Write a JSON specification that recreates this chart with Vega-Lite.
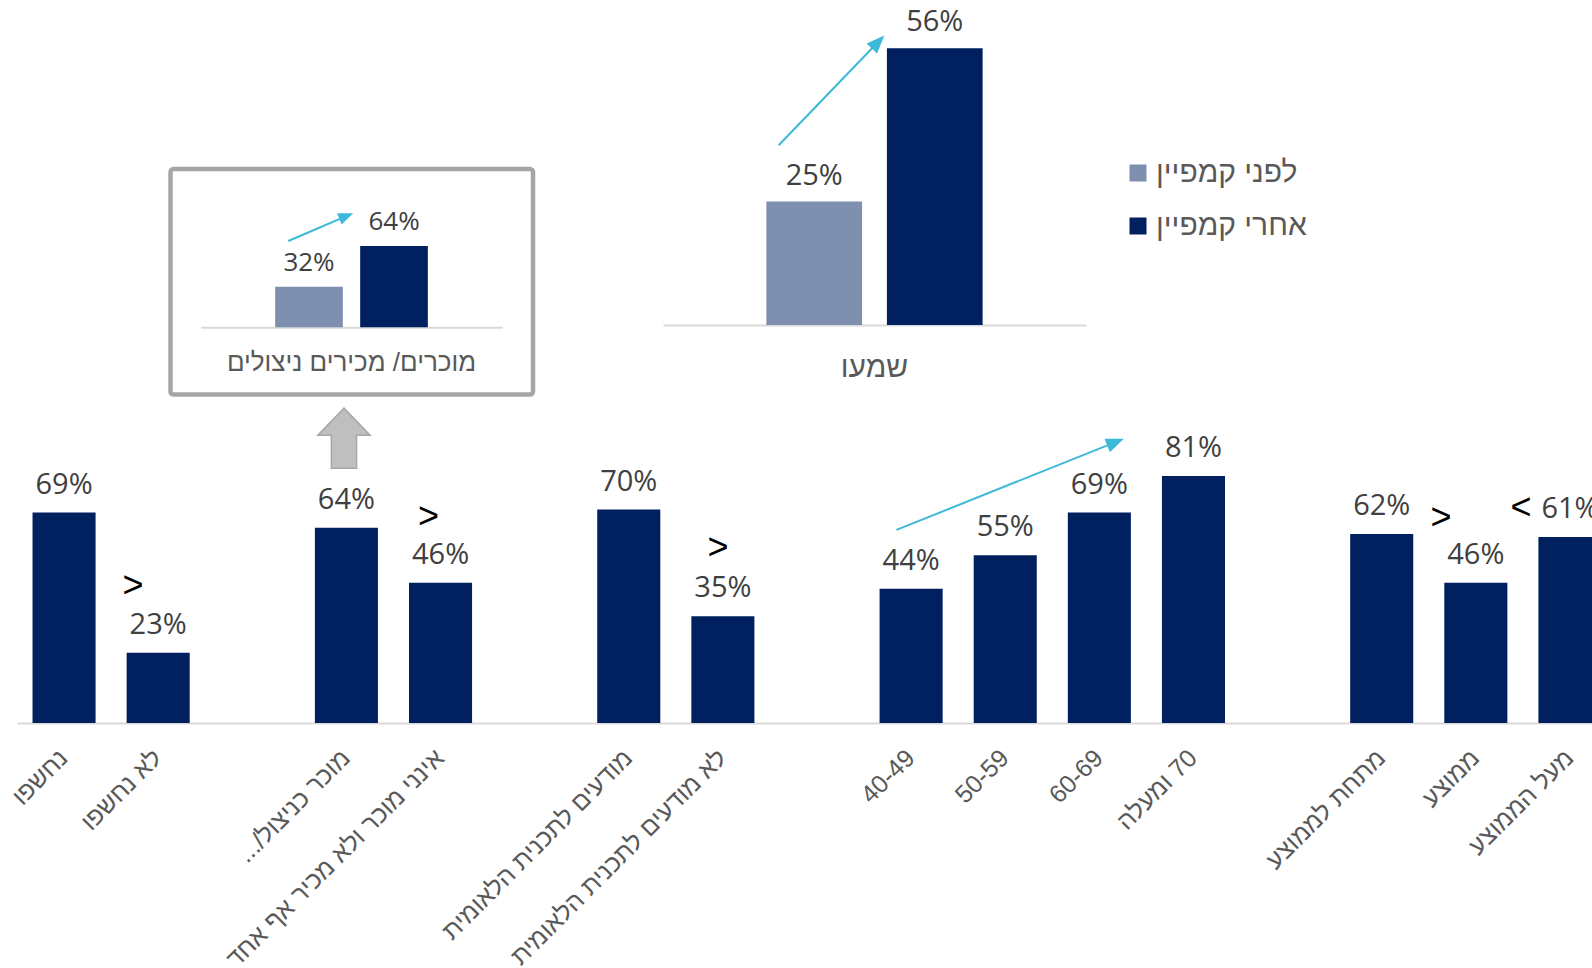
{
  "$schema": "https://vega.github.io/schema/vega-lite/v6.json",
  "width": 1592,
  "height": 968,
  "autosize": {"type": "none"},
  "padding": 0,
  "background": "white",
  "config": {"view": {"stroke": null}, "axis": {"grid": false}},
  "datasets": {
    "main": [
      {"group": "נחשפו", "pct": 0.69},
      {"group": "לא נחשפו", "pct": 0.23},
      {"group": "מוכר כניצול/...\u200f", "pct": 0.64},
      {"group": "אינני מוכר ולא מכיר אף אחד", "pct": 0.46},
      {"group": "מודעים לתכנית הלאומית", "pct": 0.70},
      {"group": "לא מודעים לתכנית הלאומית", "pct": 0.35},
      {"group": "40-49", "pct": 0.44},
      {"group": "50-59", "pct": 0.55},
      {"group": "60-69", "pct": 0.69},
      {"group": "\u200f70 ומעלה", "pct": 0.81},
      {"group": "מתחת לממוצע", "pct": 0.62},
      {"group": "ממוצע", "pct": 0.46},
      {"group": "מעל הממוצע", "pct": 0.61}
    ],
    "mainNotes": [
      {"slot": 1.232, "level": 0.449, "sym": ">"},
      {"slot": 4.372, "level": 0.676, "sym": ">"},
      {"slot": 7.448, "level": 0.574, "sym": ">"},
      {"slot": 15.13, "level": 0.672, "sym": ">"},
      {"slot": 15.98, "level": 0.705, "sym": "<"}
    ],
    "mainArrow": [{"slot": 9.344, "level": 0.633, "slot2": 11.672, "level2": 0.921}],
    "upArrow": [{"slot": 3.474, "level": 0.934}],
    "top": [
      {"category": "שמעו", "series": "לפני קמפיין", "pct": 0.25},
      {"category": "שמעו", "series": "אחרי קמפיין", "pct": 0.56}
    ],
    "topArrow": [{"u": 0.2735, "level": 0.364, "u2": 0.5085, "level2": 0.573}],
    "inset": [
      {"category": "מוכרים/ מכירים ניצולים", "series": "לפני קמפיין", "pct": 0.32},
      {"category": "מוכרים/ מכירים ניצולים", "series": "אחרי קמפיין", "pct": 0.64}
    ],
    "insetFrame": [{"u": -0.1001, "u2": 1.1018, "level": 1.2465, "level2": -0.529}],
    "insetArrow": [{"u": 0.2905, "level": 0.6795, "u2": 0.4827, "level2": 0.876}]
  },
  "layer": [
    {
      "layer": [
        {
          "data": {"name": "main"},
          "encoding": {
            "x": {
              "field": "group", "type": "nominal", "sort": null,
              "scale": {
                "domain": ["נחשפו", "לא נחשפו", " ", "מוכר כניצול/...\u200f", "אינני מוכר ולא מכיר אף אחד", "  ", "מודעים לתכנית הלאומית", "לא מודעים לתכנית הלאומית", "   ", "40-49", "50-59", "60-69", "\u200f70 ומעלה", "    ", "מתחת לממוצע", "ממוצע", "מעל הממוצע"],
                "range": [17, 1617], "paddingInner": 0.33, "paddingOuter": 0.165
              },
              "axis": {
                "orient": "bottom", "offset": -245, "title": null, "ticks": false,
                "labelAngle": -45, "labelFontSize": 25, "labelFont": "Liberation Sans",
                "labelColor": "#595959", "labelPadding": 22, "labelOffset": -9, "labelLimit": 500, "labelOverlap": false,
                "domainColor": "#D9D9D9", "domainWidth": 2
              }
            },
            "y": {"field": "pct", "type": "quantitative", "scale": {"domain": [0, 1], "range": [723, 418], "nice": false, "zero": true}, "axis": null}
          },
          "layer": [
            {"mark": {"type": "bar", "color": "#002060"}},
            {
              "mark": {"type": "text", "dy": -19, "baseline": "alphabetic", "align": "center", "font": "Open Sans", "fontSize": 29, "color": "#404040"},
              "encoding": {"text": {"field": "pct", "type": "quantitative", "format": ".0%"}}
            }
          ]
        },
        {
          "encoding": {
            "x": {"field": "slot", "type": "quantitative", "scale": {"domain": [0, 17], "range": [17, 1617], "nice": false, "zero": false}, "axis": null},
            "y": {"field": "level", "type": "quantitative", "scale": {"domain": [0, 1], "range": [723, 418], "nice": false, "zero": true}, "axis": null}
          },
          "layer": [
            {
              "data": {"name": "mainNotes"},
              "mark": {"type": "text", "font": "Liberation Sans", "fontSize": 36, "color": "#000000", "baseline": "middle", "align": "center"},
              "encoding": {"text": {"field": "sym", "type": "nominal"}}
            },
            {
              "data": {"name": "mainArrow"},
              "mark": {"type": "rule", "color": "#3CB9D8", "strokeWidth": 2},
              "encoding": {"x2": {"field": "slot2"}, "y2": {"field": "level2"}}
            },
            {
              "data": {"name": "mainArrow"},
              "mark": {"type": "point", "shape": "M0,-1L0.8,1L-0.8,1Z", "filled": true, "color": "#3CB9D8", "opacity": 1, "size": 324, "angle": 68},
              "encoding": {"x": {"field": "slot2", "type": "quantitative"}, "y": {"field": "level2", "type": "quantitative"}}
            },
            {
              "data": {"name": "upArrow"},
              "mark": {"type": "point", "shape": "M0,-1L0.87,-0.1L0.42,-0.1L0.42,1L-0.42,1L-0.42,-0.1L-0.87,-0.1Z", "filled": true, "fill": "#BFBFBF", "stroke": "#A6A6A6", "strokeWidth": 1.5, "opacity": 1, "size": 3600}
            }
          ]
        }
      ],
      "resolve": {"scale": {"x": "independent"}}
    },
    {
      "layer": [
        {
          "data": {"name": "top"},
          "encoding": {
            "x": {
              "field": "category", "type": "nominal",
              "scale": {"range": [663, 1086], "paddingOuter": 0.478, "paddingInner": 0},
              "axis": {
                "orient": "bottom", "offset": -643, "title": null, "ticks": false, "labelAngle": 0,
                "labelFontSize": 30, "labelFont": "Liberation Sans", "labelColor": "#595959",
                "labelPadding": 27, "labelLimit": 500, "domainColor": "#D9D9D9", "domainWidth": 2
              }
            },
            "xOffset": {"field": "series", "type": "nominal", "sort": ["לפני קמפיין", "אחרי קמפיין"], "scale": {"paddingInner": 0.206, "paddingOuter": 0}},
            "y": {"field": "pct", "type": "quantitative", "scale": {"domain": [0, 0.6], "range": [325, 28.6], "nice": false, "zero": true}, "axis": null},
            "color": {
              "field": "series", "type": "nominal",
              "scale": {"domain": ["לפני קמפיין", "אחרי קמפיין"], "range": ["#7F8FAF", "#002060"]},
              "legend": {
                "orient": "none", "legendX": 1123, "legendY": 158, "title": null, "direction": "vertical",
                "symbolType": "square", "symbolSize": 289, "symbolStrokeWidth": 0,
                "labelFontSize": 30, "labelFont": "Liberation Sans", "labelColor": "#595959",
                "rowPadding": 23, "labelOffset": 3, "padding": 0, "labelLimit": 400
              }
            }
          },
          "layer": [
            {"mark": {"type": "bar"}},
            {
              "mark": {"type": "text", "dy": -17, "baseline": "alphabetic", "align": "center", "font": "Open Sans", "fontSize": 29},
              "encoding": {"text": {"field": "pct", "type": "quantitative", "format": ".0%"}, "color": {"value": "#404040"}}
            }
          ]
        },
        {
          "data": {"name": "topArrow"},
          "encoding": {
            "x": {"field": "u", "type": "quantitative", "scale": {"domain": [0, 1], "range": [663, 1086], "nice": false, "zero": false}, "axis": null},
            "y": {"field": "level", "type": "quantitative", "scale": {"domain": [0, 0.6], "range": [325, 28.6], "nice": false, "zero": true}, "axis": null}
          },
          "layer": [
            {"mark": {"type": "rule", "color": "#3CB9D8", "strokeWidth": 2}, "encoding": {"x2": {"field": "u2"}, "y2": {"field": "level2"}}},
            {
              "mark": {"type": "point", "shape": "M0,-1L0.8,1L-0.8,1Z", "filled": true, "color": "#3CB9D8", "opacity": 1, "size": 324, "angle": 44},
              "encoding": {"x": {"field": "u2", "type": "quantitative"}, "y": {"field": "level2", "type": "quantitative"}}
            }
          ]
        }
      ],
      "resolve": {"scale": {"x": "independent"}}
    },
    {
      "layer": [
        {
          "encoding": {
            "x": {"field": "u", "type": "quantitative", "scale": {"domain": [0, 1], "range": [200.7, 502.3], "nice": false, "zero": false}, "axis": null},
            "y": {"field": "level", "type": "quantitative", "scale": {"domain": [0, 1], "range": [327.3, 200.3], "nice": false, "zero": true}, "axis": null}
          },
          "layer": [
            {
              "data": {"name": "insetFrame"},
              "mark": {"type": "rect", "filled": false, "stroke": "#A6A6A6", "strokeWidth": 4.5, "cornerRadius": 3, "opacity": 1},
              "encoding": {"x2": {"field": "u2"}, "y2": {"field": "level2"}}
            },
            {
              "data": {"name": "insetArrow"},
              "mark": {"type": "rule", "color": "#3CB9D8", "strokeWidth": 2},
              "encoding": {"x2": {"field": "u2"}, "y2": {"field": "level2"}}
            },
            {
              "data": {"name": "insetArrow"},
              "mark": {"type": "point", "shape": "M0,-1L0.8,1L-0.8,1Z", "filled": true, "color": "#3CB9D8", "opacity": 1, "size": 225, "angle": 68},
              "encoding": {"x": {"field": "u2", "type": "quantitative"}, "y": {"field": "level2", "type": "quantitative"}}
            }
          ]
        },
        {
          "data": {"name": "inset"},
          "encoding": {
            "x": {
              "field": "category", "type": "nominal",
              "scale": {"range": [200.7, 502.3], "paddingOuter": 0.4876, "paddingInner": 0},
              "axis": {
                "orient": "bottom", "offset": -640.7, "title": null, "ticks": false, "labelAngle": 0,
                "labelFontSize": 26, "labelFont": "Liberation Sans", "labelColor": "#595959",
                "labelPadding": 22, "labelLimit": 500, "domainColor": "#D9D9D9", "domainWidth": 2
              }
            },
            "xOffset": {"field": "series", "type": "nominal", "sort": ["לפני קמפיין", "אחרי קמפיין"], "scale": {"paddingInner": 0.204, "paddingOuter": 0}},
            "y": {"field": "pct", "type": "quantitative", "scale": {"domain": [0, 1], "range": [327.3, 200.3], "nice": false, "zero": true}, "axis": null},
            "color": {
              "field": "series", "type": "nominal",
              "scale": {"domain": ["לפני קמפיין", "אחרי קמפיין"], "range": ["#7F8FAF", "#002060"]},
              "legend": {
                "orient": "none", "legendX": 1123, "legendY": 158, "title": null, "direction": "vertical",
                "symbolType": "square", "symbolSize": 289, "symbolStrokeWidth": 0,
                "labelFontSize": 30, "labelFont": "Liberation Sans", "labelColor": "#595959",
                "rowPadding": 23, "labelOffset": 3, "padding": 0, "labelLimit": 400
              }
            }
          },
          "layer": [
            {"mark": {"type": "bar"}},
            {
              "mark": {"type": "text", "dy": -16, "baseline": "alphabetic", "align": "center", "font": "Open Sans", "fontSize": 26},
              "encoding": {"text": {"field": "pct", "type": "quantitative", "format": ".0%"}, "color": {"value": "#404040"}}
            }
          ]
        }
      ],
      "resolve": {"scale": {"x": "independent", "xOffset": "independent"}}
    }
  ],
  "resolve": {"scale": {"x": "independent", "y": "independent", "xOffset": "independent"}, "axis": {"x": "independent", "y": "independent"}}
}
